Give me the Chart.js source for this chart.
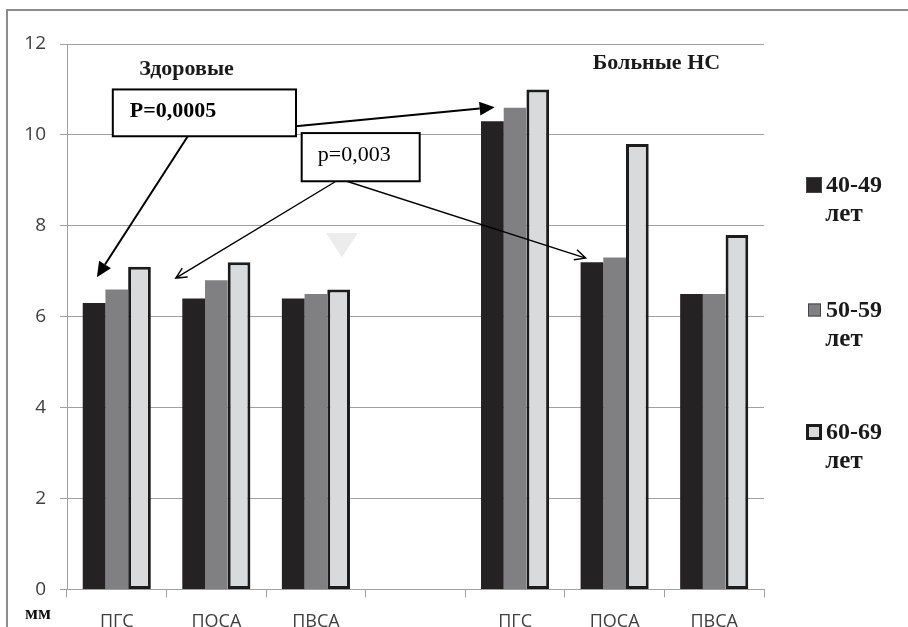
<!DOCTYPE html>
<html lang="ru">
<head>
    <meta charset="UTF-8">
    <title>Диаметр сосудов по возрастам</title>
    <script src="https://cdn.jsdelivr.net/npm/chart.js"></script>
    <style>
        html, body { margin: 0; padding: 0; background: #fff; overflow: hidden; }
        #wrap { position: relative; width: 908px; height: 647px; }
    </style>
</head>
<body>
    <div id="wrap"><canvas id="barChart"></canvas></div>
    <script>
        // данные
        const categories = ['ПГС', 'ПОСА', 'ПВСА', '', 'ПГС', 'ПОСА', 'ПВСА'];
        const ages40 = [6.3, 6.4, 6.4, null, 10.3, 7.2, 6.5];
        const ages50 = [6.6, 6.8, 6.5, null, 10.6, 7.3, 6.5];
        const ages60 = [7.1, 7.2, 6.6, null, 11.0, 9.8, 7.8];
        const seriesNames = ['40-49', '50-59', '60-69'];
        const yTicks = [0, 2, 4, 6, 8, 10, 12];
        const groupTitles = ['Здоровые', 'Больные НС'];
        const unitLabel = 'мм';

        const serif = '"Liberation Serif", "DejaVu Serif", serif';
        const sans = '"Open Sans", "Noto Sans", sans-serif';

        // подписи и стрелки: c = позиция по категориям, v = значение по оси
        const titles = [
            { text: groupTitles[0], c: 0.70, v: 11.45 },
            { text: groupTitles[1], c: 5.42, v: 11.58 }
        ];
        const boxes = [
            { text: 'P=0,0005', bold: true, c1: -0.04, c2: 1.80, v1: 11.0, v2: 9.97, tc: 0.13, tv: 10.52 },
            { text: 'p=0,003', bold: false, c1: 1.857, c2: 3.042, v1: 10.04, v2: 8.98, tc: 2.018, tv: 9.56 }
        ];
        const arrows = [
            { from: [0.713, 9.97], to: [-0.20, 6.87], filled: true },
            { from: [1.797, 10.19], to: [3.795, 10.61], filled: true },
            { from: [2.239, 9.03], to: [0.592, 6.85], filled: false },
            { from: [2.239, 9.03], to: [4.709, 7.29], filled: false }
        ];

        const frame = {
            id: 'frame',
            beforeDraw(chart) {
                const ctx = chart.ctx;
                ctx.save();
                ctx.strokeStyle = '#8c8c8c';
                ctx.lineWidth = 2;
                ctx.strokeRect(7, 10, 1200, 1200);
                ctx.restore();
            }
        };

        function toPx(chart, c, v) {
            const x = chart.scales.x, y = chart.scales.y;
            const x0 = x.getPixelForValue(0);
            const step = x.getPixelForValue(1) - x0;
            return [x0 + c * step, y.getPixelForValue(v)];
        }

        function drawArrow(ctx, a, b, filled) {
            const ang = Math.atan2(b[1] - a[1], b[0] - a[0]);
            ctx.strokeStyle = '#000';
            ctx.fillStyle = '#000';
            if (filled) {
                const len = 15, w = 7;
                const bx = b[0] - len * Math.cos(ang), by = b[1] - len * Math.sin(ang);
                ctx.lineWidth = 2;
                ctx.beginPath();
                ctx.moveTo(a[0], a[1]);
                ctx.lineTo(bx, by);
                ctx.stroke();
                ctx.beginPath();
                ctx.moveTo(b[0], b[1]);
                ctx.lineTo(bx + w * Math.sin(ang), by - w * Math.cos(ang));
                ctx.lineTo(bx - w * Math.sin(ang), by + w * Math.cos(ang));
                ctx.closePath();
                ctx.fill();
            } else {
                const len = 12, spread = 0.45;
                ctx.lineWidth = 1.4;
                ctx.beginPath();
                ctx.moveTo(a[0], a[1]);
                ctx.lineTo(b[0], b[1]);
                ctx.moveTo(b[0] - len * Math.cos(ang - spread), b[1] - len * Math.sin(ang - spread));
                ctx.lineTo(b[0], b[1]);
                ctx.lineTo(b[0] - len * Math.cos(ang + spread), b[1] - len * Math.sin(ang + spread));
                ctx.stroke();
            }
        }

        const notes = {
            id: 'notes',
            afterDraw(chart) {
                const ctx = chart.ctx;
                ctx.save();

                // светлый треугольник
                const t1 = toPx(chart, 2.10, 7.84), t2 = toPx(chart, 2.42, 7.84), t3 = toPx(chart, 2.26, 7.31);
                ctx.fillStyle = '#ececec';
                ctx.beginPath();
                ctx.moveTo(t1[0], t1[1]); ctx.lineTo(t2[0], t2[1]); ctx.lineTo(t3[0], t3[1]);
                ctx.closePath();
                ctx.fill();

                ctx.fillStyle = '#1a1a1a';
                ctx.textAlign = 'center';
                ctx.textBaseline = 'middle';
                ctx.font = 'bold 22px ' + serif;
                titles.forEach(t => {
                    const p = toPx(chart, t.c, t.v);
                    ctx.fillText(t.text, p[0], p[1]);
                });

                arrows.forEach(a => drawArrow(ctx, toPx(chart, a.from[0], a.from[1]), toPx(chart, a.to[0], a.to[1]), a.filled));

                boxes.forEach(b => {
                    const p1 = toPx(chart, b.c1, b.v1), p2 = toPx(chart, b.c2, b.v2);
                    ctx.fillStyle = '#fff';
                    ctx.fillRect(p1[0], p1[1], p2[0] - p1[0], p2[1] - p1[1]);
                    ctx.strokeStyle = '#000';
                    ctx.lineWidth = 2;
                    ctx.strokeRect(p1[0], p1[1], p2[0] - p1[0], p2[1] - p1[1]);
                    const tp = toPx(chart, b.tc, b.tv);
                    ctx.fillStyle = '#000';
                    ctx.textAlign = 'left';
                    ctx.font = (b.bold ? 'bold ' : '') + '22px ' + serif;
                    ctx.fillText(b.text, tp[0], tp[1]);
                });

                // мм под осью
                ctx.textAlign = 'center';
                ctx.font = 'bold 19px ' + serif;
                ctx.fillStyle = '#111';
                ctx.fillText(unitLabel, 38, 614);

                // легенда справа
                const area = chart.chartArea;
                const rowY = [185, 310, 432];
                chart.data.datasets.forEach((ds, i) => {
                    const y = rowY[i];
                    const sq = i === 1 ? 13 : 16;
                    const sx = area.right + 42 + (i === 1 ? 2 : 0);
                    ctx.fillStyle = ds.backgroundColor;
                    ctx.fillRect(sx, y - sq / 2, sq, sq);
                    if (ds.borderWidth) {
                        ctx.strokeStyle = ds.borderColor;
                        ctx.lineWidth = 3;
                        ctx.strokeRect(sx + 1.5, y - sq / 2 + 1.5, sq - 3, sq - 3);
                    } else {
                        ctx.strokeStyle = '#444';
                        ctx.lineWidth = 1;
                        ctx.strokeRect(sx + 0.5, y - sq / 2 + 0.5, sq - 1, sq - 1);
                    }
                    ctx.fillStyle = '#1a1a1a';
                    ctx.textAlign = 'left';
                    ctx.font = 'bold 24px ' + serif;
                    ctx.fillText(ds.label, area.right + 62, y + 1);
                    ctx.textAlign = 'center';
                    ctx.font = 'bold 25px ' + serif;
                    ctx.fillText('лет', area.right + 80, y + 30);
                });
                ctx.restore();
            }
        };

        const ctx = document.getElementById('barChart').getContext('2d');
        const barChart = new Chart(ctx, {
            type: 'bar',
            data: {
                labels: categories,
                datasets: [{
                    label: seriesNames[0],
                    data: ages40,
                    backgroundColor: '#252223',
                    borderWidth: 0
                }, {
                    label: seriesNames[1],
                    data: ages50,
                    backgroundColor: '#808083',
                    borderWidth: 0
                }, {
                    label: seriesNames[2],
                    data: ages60,
                    backgroundColor: '#d9dadb',
                    borderColor: '#1c1c1c',
                    borderWidth: 3,
                    borderSkipped: false
                }]
            },
            options: {
                responsive: true,
                maintainAspectRatio: false,
                animation: false,
                layout: { padding: { top: 44, right: 144, left: 0, bottom: 0 } },
                datasets: {
                    bar: { categoryPercentage: 0.684, barPercentage: 1.0 }
                },
                scales: {
                    x: {
                        grid: { drawOnChartArea: false, drawTicks: true, tickLength: 8, color: '#a0a0a0' },
                        border: { color: '#a0a0a0' },
                        ticks: { color: '#404040', font: { family: sans, size: 18 }, padding: 14 }
                    },
                    y: {
                        min: 0,
                        max: 12,
                        afterBuildTicks: s => { s.ticks = yTicks.map(v => ({ value: v })); },
                        afterFit: s => { s.width = 67; },
                        grid: { color: '#a0a0a0', tickLength: 7 },
                        border: { color: '#a0a0a0' },
                        ticks: { color: '#404040', font: { family: sans, size: 19 }, padding: 14 }
                    }
                },
                plugins: {
                    legend: { display: false },
                    tooltip: { enabled: false }
                }
            },
            plugins: [frame, notes]
        });
    </script>
</body>
</html>
